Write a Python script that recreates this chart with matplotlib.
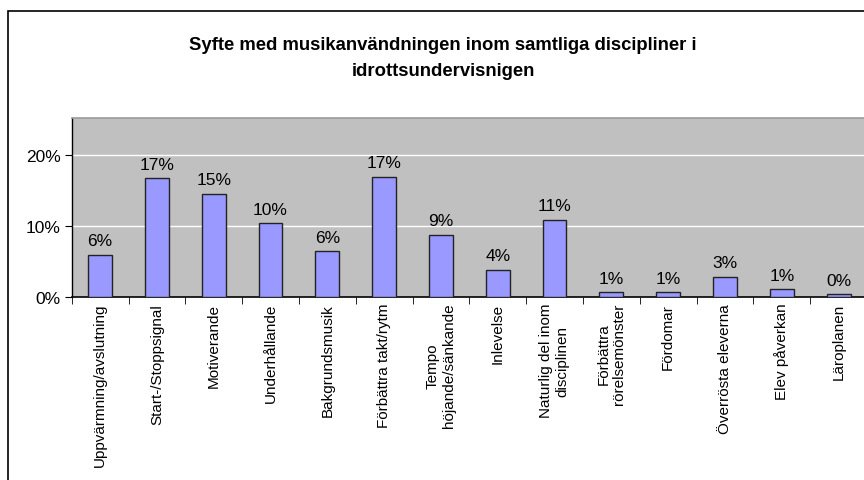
import matplotlib
matplotlib.use("Agg")
import matplotlib.pyplot as plt
from matplotlib.patches import Rectangle

# Syfte med musikanvändningen (andel svar)
categories = [
    "Uppvärmning/avslutning",
    "Start-/Stoppsignal",
    "Motiverande",
    "Underhållande",
    "Bakgrundsmusik",
    "Förbättra takt/rytm",
    "Tempo\nhöjande/sänkande",
    "Inlevelse",
    "Naturlig del inom\ndisciplinen",
    "Förbättra\nrörelsemönster",
    "Fördomar",
    "Överrösta eleverna",
    "Elev påverkan",
    "Läroplanen",
]
values = [6.0, 16.8, 14.6, 10.4, 6.5, 17.0, 8.8, 3.9, 10.9, 0.7, 0.7, 2.9, 1.1, 0.4]
yticks = [0, 10, 20]

plt.rcParams['font.family'] = ['Liberation Sans', 'DejaVu Sans']

fig = plt.figure(figsize=(8.64, 4.81), dpi=100)

# chart frame (only top and left edge visible in the crop)
fig.patches.append(Rectangle((7.5 / 864, -0.5), 2, 0.5 + 1 - 12.3 / 481,
                             transform=fig.transFigure, fill=False,
                             edgecolor='black', linewidth=1.2))

fig.text(0.513, 1 - 46 / 481, "Syfte med musikanvändningen inom samtliga discipliner i",
         ha='center', va='center', fontsize=13.3, fontweight='bold')
fig.text(0.513, 1 - 71 / 481, "idrottsundervisnigen",
         ha='center', va='center', fontsize=13.3, fontweight='bold')

ax = fig.add_axes([71.7 / 864, 1 - 298.3 / 481, (867 - 71.7) / 864, (298.3 - 119.3) / 481])
ax.set_facecolor('#C0C0C0')

x = list(range(len(categories)))
ax.bar(x, values, width=0.42, color='#9999FF', edgecolor='#222222', linewidth=1, zorder=3)

for xi, v in zip(x, values):
    ax.text(xi, v + 0.9, f"{round(v):.0f}%", ha='center', va='bottom', fontsize=12.5, zorder=4)

ax.set_xlim(-0.5, len(categories) - 0.5)
ax.set_ylim(0, 25.2)
ax.set_yticks(yticks)
ax.set_yticklabels([f"{t}%" for t in yticks], fontsize=12.5)
ax.yaxis.grid(True, color='white', linewidth=1, zorder=1)

ax.set_xticks(x)
ax.set_xticklabels(categories, rotation=90, fontsize=11, va='top', ha='center',
                   multialignment='center')
ax.set_xticks([i - 0.5 for i in range(len(categories) + 1)], minor=True)
ax.tick_params(axis='x', which='major', length=0, pad=4)
ax.tick_params(axis='x', which='minor', length=5, direction='out', color='black')
ax.tick_params(axis='y', length=5, direction='out', color='black', pad=3)

for side in ['top', 'right']:
    ax.spines[side].set_color('#9a9a9a')
    ax.spines[side].set_linewidth(1.2)
ax.spines['left'].set_color('black')
ax.spines['bottom'].set_color('black')
ax.spines['left'].set_linewidth(1)
ax.spines['bottom'].set_linewidth(1.2)

fig.savefig('out.png', dpi=100)
